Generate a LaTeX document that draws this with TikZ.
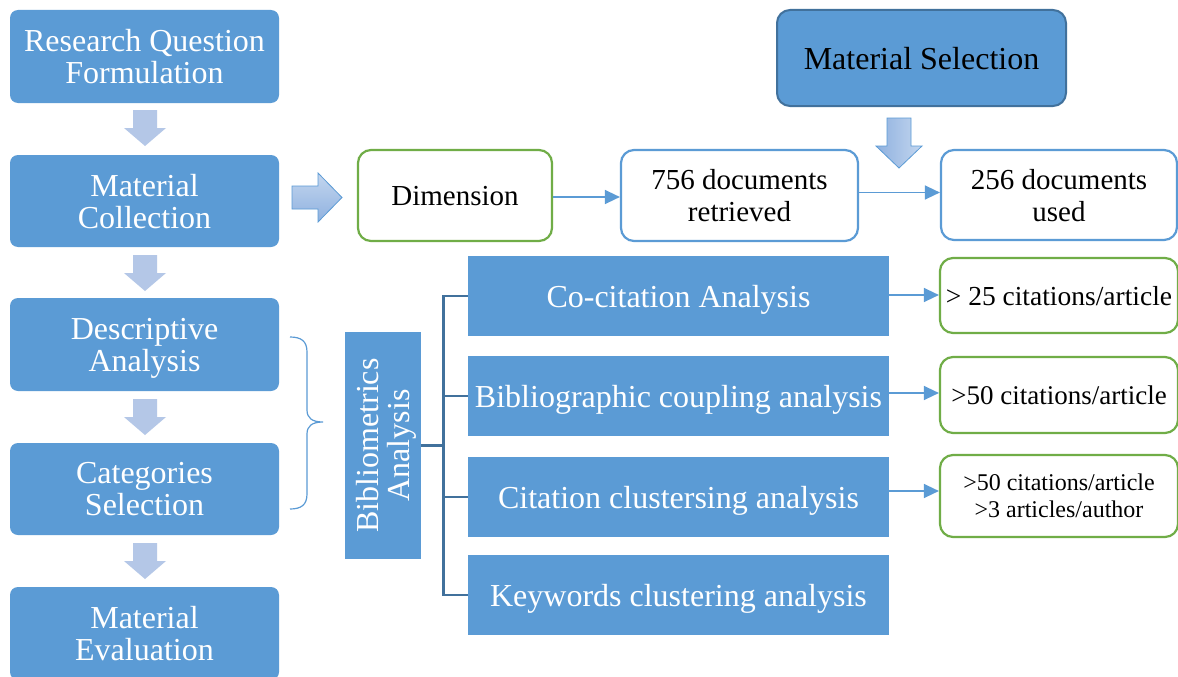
\documentclass[tikz,border=0pt]{standalone}
\usepackage{fontspec}
\setmainfont{Liberation Serif}
\usetikzlibrary{arrows.meta}
\definecolor{boxblue}{HTML}{5B9BD5}
\definecolor{deepblue}{HTML}{41719C}
\definecolor{leafgreen}{HTML}{70AD47}
\definecolor{paleblue}{HTML}{B4C7E7}
\definecolor{shadeA}{HTML}{8FB1DF}
\definecolor{shadeB}{HTML}{C3D6EF}
\tikzset{
  x=1pt, y=-1pt,
  every node/.append style={text depth=0pt},
  stagebox/.style={rectangle, rounded corners=8pt, fill=boxblue, text=white,
    minimum width=269pt, inner sep=0pt, align=center,
    font=\fontsize{32}{32}\selectfont},
  selbox/.style={rectangle, rounded corners=13pt, fill=boxblue, draw=deepblue,
    line width=2pt, minimum width=289pt, minimum height=96pt, inner sep=0pt,
    font=\fontsize{32}{32}\selectfont},
  greenbox/.style={rectangle, rounded corners=13pt, draw=leafgreen, fill=white,
    line width=2.2pt, inner sep=0pt, align=center},
  bluebox/.style={rectangle, rounded corners=13pt, draw=boxblue, fill=white,
    line width=2.2pt, inner sep=0pt, align=center,
    font=\fontsize{29}{32}\selectfont},
  methodbox/.style={rectangle, fill=boxblue, text=white, minimum width=421pt,
    minimum height=80pt, inner sep=0pt, font=\fontsize{32}{32}\selectfont},
  flow/.style={draw=boxblue, line width=1.4pt,
    -{Triangle[length=15pt,width=14pt]}},
  tree/.style={draw=deepblue, line width=2.8pt},
  brace/.style={draw=boxblue, line width=1.2pt},
  dnarrow/.pic={
    \fill[paleblue] (-12,0) -- (12,0) -- (12,18) -- (21,18) -- (0,36)
      -- (-21,18) -- (-12,18) -- cycle;
  },
}
\begin{document}
\begin{tikzpicture}
\clip (0,0) rectangle (1178,677);
\fill[white] (0,0) rectangle (1178,677);

% workflow stages on the left
\node[stagebox, minimum height=93pt] (rq) at (144.5,56.5) {Research Question\\Formulation};
\node[stagebox, minimum height=92pt] (mc) at (144.5,201) {Material\\Collection};
\node[stagebox, minimum height=93pt] (da) at (144.5,344.5) {Descriptive\\Analysis};
\node[stagebox, minimum height=92pt] (cs) at (144.5,489) {Categories\\Selection};
\node[stagebox, minimum height=93pt] (me) at (144.5,633.5) {Material\\Evaluation};

% block arrows between the stages
\pic at (145,110) {dnarrow};
\pic at (145,255) {dnarrow};
\pic at (145,399) {dnarrow};
\pic at (145,543) {dnarrow};

% collection pipeline
\node[greenbox, minimum width=194pt, minimum height=91pt,
  font=\fontsize{29}{32}\selectfont] (dim) at (455,195.5) {Dimension};
\node[bluebox, minimum width=237pt, minimum height=91pt] (ret) at (739.5,195.5) {756 documents\\retrieved};
\node[bluebox, minimum width=236pt, minimum height=90pt] (used) at (1059,195) {256 documents\\used};
\node[selbox] (ms) at (921.5,58) {Material Selection};

\draw[flow] (dim.east |- 0,197) -- (ret.west |- 0,197);
\draw[flow] (ret.east |- 0,192.5) -- (used.west |- 0,192.5);

% wide arrow from collection to the database
\shade[top color=shadeB, bottom color=shadeA, draw=boxblue, line width=0.8pt]
  (292,186) -- (318,186) -- (318,173) -- (342,197.5) -- (318,222)
  -- (318,209) -- (292,209) -- cycle;
% arrow from the selection step down to the pipeline
\shade[left color=shadeA, right color=shadeB, draw=boxblue, line width=0.8pt]
  (887,118) -- (911,118) -- (911,146) -- (922,146) -- (899,168)
  -- (876,146) -- (887,146) -- cycle;

% brace grouping the analysis stages
\draw[brace] (290,337) .. controls (301,337) and (307,341) .. (307,352)
  -- (307,410) .. controls (307,418) and (312,422) .. (323,422)
  .. controls (312,422) and (307,426) .. (307,434)
  -- (307,494) .. controls (307,505) and (301,509) .. (290,509);

% bibliometric analysis and its methods
\node[rectangle, fill=boxblue, text=white, minimum width=227pt, minimum height=76pt,
  inner sep=0pt, align=center, rotate=90, font=\fontsize{32}{31}\selectfont]
  (bib) at (383,445.5) {Bibliometrics\\Analysis};

\node[methodbox] (cc) at (678.5,296) {Co-citation Analysis};
\node[methodbox] (bc) at (678.5,396) {Bibliographic coupling analysis};
\node[methodbox] (cl) at (678.5,497) {Citation clustersing analysis};
\node[methodbox] (kw) at (678.5,595) {Keywords clustering analysis};

\draw[tree] (bib.south) -- ++(23,0);
\draw[tree] (cc.west) -- ++(-24,0) |- (kw.west);
\draw[tree] (bc.west) -- ++(-24,0);
\draw[tree] (cl.west) -- ++(-24,0);

% thresholds
\node[greenbox, minimum width=238pt, minimum height=75pt,
  font=\fontsize{27.5}{30}\selectfont] (g1) at (1059,295.5) {> 25 citations/article};
\node[greenbox, minimum width=238pt, minimum height=76pt,
  font=\fontsize{27}{30}\selectfont] (g2) at (1059,395) {>50 citations/article};
\node[greenbox, minimum width=238pt, minimum height=82pt,
  font=\fontsize{24}{27}\selectfont] (g3) at (1059,496) {>50 citations/article\\>3 articles/author};

\draw[flow] (cc.east |- 0,295) -- (g1.west |- 0,295);
\draw[flow] (bc.east |- 0,393) -- (g2.west |- 0,393);
\draw[flow] (cl.east |- 0,491) -- (g3.west |- 0,491);
\end{tikzpicture}
\end{document}
